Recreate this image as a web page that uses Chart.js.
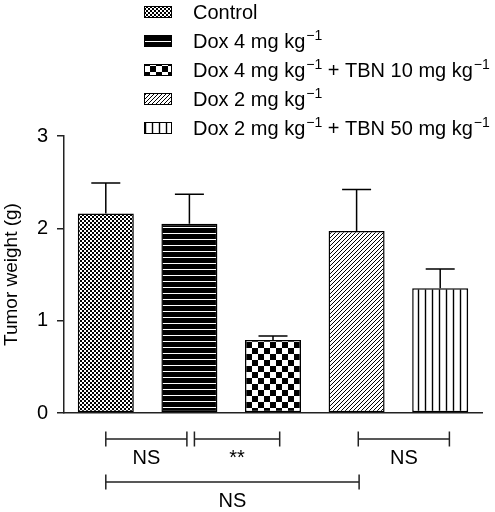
<!DOCTYPE html>
<html>
<head>
<meta charset="utf-8">
<script src="https://cdn.jsdelivr.net/npm/chart.js@4.4.0/dist/chart.umd.min.js"></script>
<style>
  html, body { margin: 0; padding: 0; background: #fff; }
</style>
</head>
<body>
<canvas id="chart" width="495" height="512"></canvas>
<script>
// ===== DATA =====
const groups = ['Control', 'Dox 4 mg kg−1', 'Dox 4 mg kg−1 + TBN 10 mg kg−1', 'Dox 2 mg kg−1', 'Dox 2 mg kg−1 + TBN 50 mg kg−1'];
const tumorWeight = [2.16, 2.05, 0.79, 1.97, 1.35];
const tumorSem    = [0.33, 0.32, 0.045, 0.45, 0.21];
const yTicks      = [0, 1, 2, 3];
// significance brackets: from / to in category units, row below axis
const bracketFrom  = [0, 1.06, 3.02, 0];
const bracketTo    = [0.97, 2.08, 4.11, 3.03];
const bracketRow   = [0, 0, 0, 1];
const bracketLabel = ['NS', '**', 'NS', 'NS'];

const FONT = '"Liberation Sans", Arial, Helvetica, sans-serif';
const FS = 20;
Chart.defaults.font.family = FONT;
Chart.defaults.color = '#000';

const canvas = document.getElementById('chart');
const mainCtx = canvas.getContext('2d');

// ===== PATTERNS =====
function makePattern(w, h, draw) {
  const c = document.createElement('canvas');
  c.width = w; c.height = h;
  const g = c.getContext('2d');
  g.fillStyle = '#fff';
  g.fillRect(0, 0, w, h);
  g.fillStyle = '#000';
  draw(g, w, h);
  return mainCtx.createPattern(c, 'repeat');
}

const patterns = [
  makePattern(4, 4, g => { g.fillRect(0, 0, 2, 2); g.fillRect(2, 2, 2, 2); }),
  makePattern(6, 6, g => { g.fillRect(0, 0, 6, 5); }),
  makePattern(12, 12, g => { g.fillRect(0, 0, 6, 6); g.fillRect(6, 6, 6, 6); }),
  makePattern(4, 4, g => { for (let i = 0; i < 4; i++) g.fillRect(i, 3 - i, 1, 1); }),
  makePattern(7, 7, g => { g.fillRect(4.8, 0, 1.4, 7); })
];

// superscript "−1" helper
function drawRich(ctx, text, x, y, size) {
  text.split(/(−1)/).forEach(part => {
    if (!part) return;
    if (part === '−1') {
      ctx.font = Math.round(size * 0.7) + 'px ' + FONT;
      ctx.fillText(part, x + 1, y - size * 0.3);
      x += ctx.measureText(part).width + 1;
    } else {
      ctx.font = size + 'px ' + FONT;
      ctx.fillText(part, x, y);
      x += ctx.measureText(part).width;
    }
  });
}

// ===== PLUGINS =====
const errorBars = {
  id: 'errorBars',
  afterDatasetsDraw(chart) {
    const ctx = chart.ctx, y = chart.scales.y;
    const meta = chart.getDatasetMeta(0);
    ctx.save();
    ctx.strokeStyle = '#000';
    ctx.lineWidth = 1.5;
    meta.data.forEach((bar, i) => {
      const top = y.getPixelForValue(tumorWeight[i] + tumorSem[i]);
      ctx.beginPath();
      ctx.moveTo(bar.x, bar.y);
      ctx.lineTo(bar.x, top);
      ctx.moveTo(bar.x - 14.5, top);
      ctx.lineTo(bar.x + 14.5, top);
      ctx.stroke();
    });
    ctx.restore();
  }
};

const brackets = {
  id: 'brackets',
  afterDraw(chart) {
    const ctx = chart.ctx, x = chart.scales.x;
    const base = chart.chartArea.bottom;
    ctx.save();
    ctx.strokeStyle = '#222';
    ctx.lineWidth = 1.5;
    ctx.fillStyle = '#000';
    ctx.textAlign = 'center';
    ctx.textBaseline = 'middle';
    ctx.font = FS + 'px ' + FONT;
    bracketFrom.forEach((f, i) => {
      const x0 = x.getPixelForValue(f), x1 = x.getPixelForValue(bracketTo[i]);
      const yy = base + 26 + bracketRow[i] * 43;
      ctx.beginPath();
      ctx.moveTo(x0, yy); ctx.lineTo(x1, yy);
      ctx.moveTo(x0, yy - 7.5); ctx.lineTo(x0, yy + 7.5);
      ctx.moveTo(x1, yy - 7.5); ctx.lineTo(x1, yy + 7.5);
      ctx.stroke();
      ctx.fillText(bracketLabel[i], (x0 + x1) / 2, yy + 19);
    });
    ctx.restore();
  }
};

const patternLegend = {
  id: 'patternLegend',
  afterDraw(chart) {
    const ctx = chart.ctx;
    ctx.save();
    ctx.textBaseline = 'middle';
    groups.forEach((g, i) => {
      const cy = 12 + i * 29;
      ctx.fillStyle = patterns[i];
      ctx.fillRect(144, cy - 6, 28, 12);
      ctx.strokeStyle = '#000';
      ctx.lineWidth = 1;
      ctx.strokeRect(144.5, cy - 5.5, 27, 11);
      ctx.fillStyle = '#000';
      drawRich(ctx, g, 193, cy + 1, FS);
    });
    ctx.restore();
  }
};

// ===== CHART =====
new Chart(canvas, {
  type: 'bar',
  data: {
    labels: groups,
    datasets: [{
      data: tumorWeight,
      backgroundColor: patterns,
      borderColor: '#000',
      borderWidth: 1.5,
      borderSkipped: false,
      barPercentage: 0.67,
      categoryPercentage: 1
    }]
  },
  options: {
    responsive: false,
    animation: false,
    events: [],
    layout: { padding: { top: 136, right: 13, bottom: 99, left: 0 } },
    plugins: { legend: { display: false }, tooltip: { enabled: false } },
    scales: {
      x: {
        offset: true,
        ticks: { display: false },
        grid: { drawOnChartArea: false, drawTicks: false },
        border: { color: '#222', width: 1.5 },
        afterFit: s => { s.height = 0; }
      },
      y: {
        min: 0, max: 3,
        afterBuildTicks: s => { s.ticks = yTicks.map(v => ({ value: v })); },
        ticks: { color: '#000', font: { size: FS }, padding: 9 },
        grid: { drawOnChartArea: false, drawTicks: true, tickLength: 7, color: '#222', lineWidth: 1.5 },
        border: { color: '#222', width: 1.5 },
        title: { display: true, text: 'Tumor weight (g)', color: '#000', font: { size: 19 }, padding: 0 },
        afterFit: s => { s.width = 64; }
      }
    }
  },
  plugins: [errorBars, brackets, patternLegend]
});
</script>
</body>
</html>
